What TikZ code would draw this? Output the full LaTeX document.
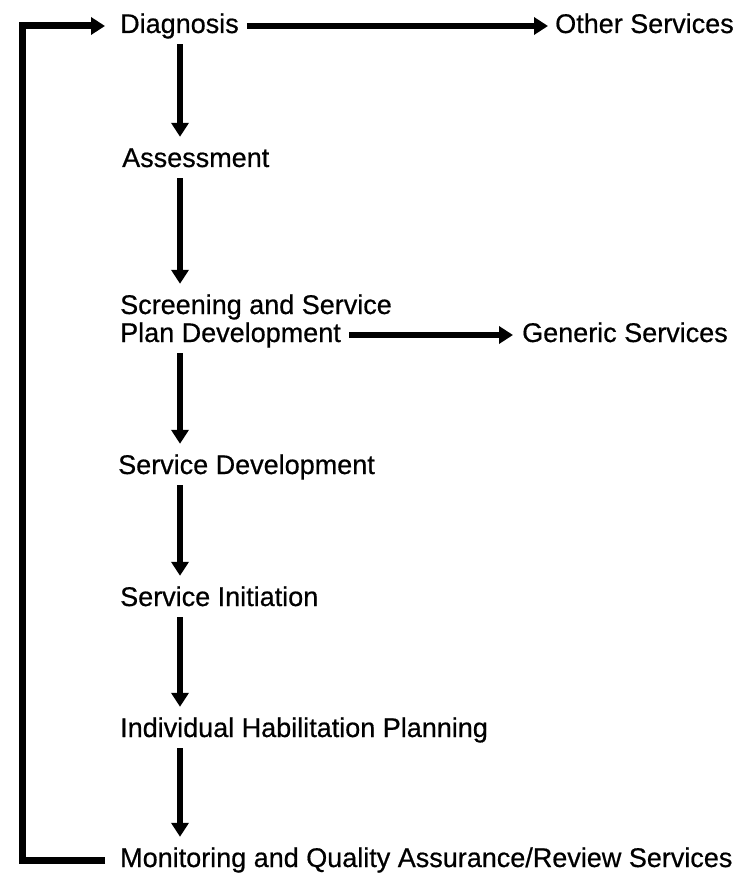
\documentclass[tikz,border=0pt]{standalone}
\usepackage{fontspec}
\setmainfont{Liberation Sans}
\newfontfamily\chartfont{Liberation Sans}[FakeBold=0.6]
\usetikzlibrary{arrows.meta}

\begin{document}
\begin{tikzpicture}
  [x=1pt,y=-1pt,
   every node/.style={anchor=west,inner sep=0pt,text height=20pt,text depth=6pt,font=\chartfont\fontsize{27}{32}\selectfont},
   link/.style={line width=6pt,-{Triangle[length=14pt,width=17pt]}}]
  \useasboundingbox (0,0) rectangle (743,874);
  \coordinate (spine) at (180,0);
  \coordinate (loop) at (22,0);

  \node (diag) at (120,26) {Diagnosis};
  \node (other) at (555,26) {Other Services};
  \node (assess) at (122,160) {Assessment};
  \node (screen) at (120,307) {Screening and Service};
  \node (plan) at (120,335) {Plan Development};
  \node (gen) at (522,335) {Generic Services};
  \node (sdev) at (118,467) {Service Development};
  \node (sinit) at (120,599) {Service Initiation};
  \node (ihp) at (120,730) {Individual Habilitation Planning};
  \node (mon) at (120,860) {Monitoring and Quality Assurance/Review Services};

  \foreach \from/\to in {diag/assess,assess/screen,plan/sdev,sdev/sinit,sinit/ihp,ihp/mon}
    \draw[link,shorten <=5pt,shorten >=10pt] (\from.south -| spine) -- (\to.north -| spine);

  \draw[link,shorten <=8pt,shorten >=7pt] (diag.east) -- (other.west);
  \draw[link,shorten <=8pt,shorten >=9pt] (plan.east |- gen.west) -- (gen.west);
  \draw[link,line width=7pt,shorten <=15pt,shorten >=15pt] (mon.west) -- (mon.west -| loop) |- (diag.west);

\end{tikzpicture}
\end{document}
